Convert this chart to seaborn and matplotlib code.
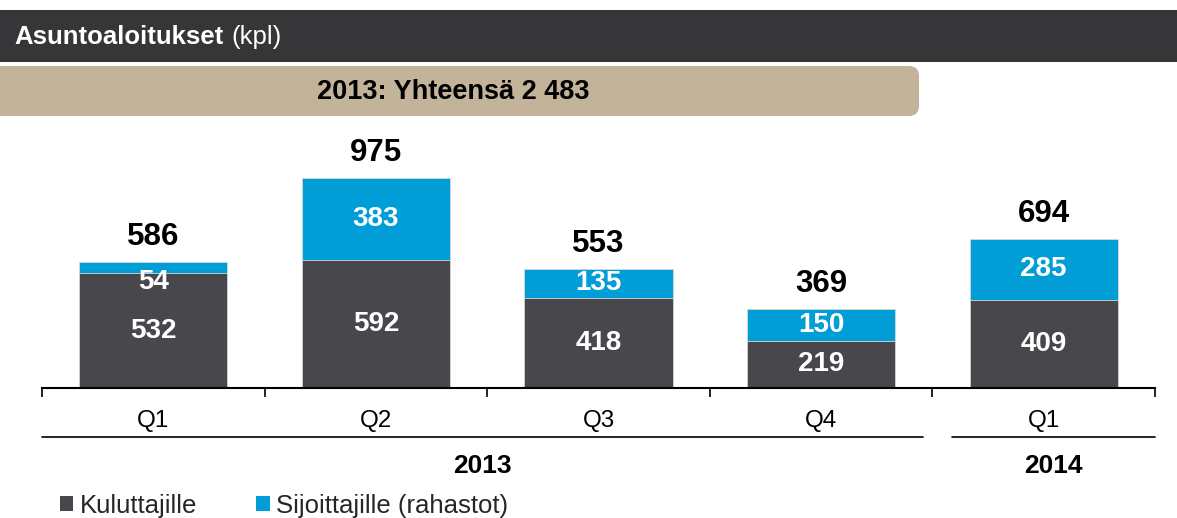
import matplotlib
matplotlib.use("Agg")
import matplotlib.pyplot as plt
import matplotlib.transforms as mtransforms
from matplotlib.patches import Rectangle, FancyBboxPatch, Patch
from matplotlib.lines import Line2D
import seaborn as sns
import pandas as pd

# Chart data (kpl)
quarters = ["Q1", "Q2", "Q3", "Q4", "Q1"]
years = ["2013", "2013", "2013", "2013", "2014"]
kuluttajille = [532, 592, 418, 219, 409]
sijoittajille = [54, 383, 135, 150, 285]
title_bold = "Asuntoaloitukset"
title_rest = "(kpl)"
banner = "2013: Yhteensä 2 483"
legend_labels = ["Kuluttajille", "Sijoittajille (rahastot)"]

DARK = "#48474c"
BLUE = "#009dd6"
BEIGE = "#c3b399"
HEADER = "#363638"

df = pd.DataFrame({"quarter": quarters, "year": years,
                   "kuluttajille": kuluttajille, "sijoittajille": sijoittajille})
df["period"] = df["quarter"] + " " + df["year"]
df["total"] = df["kuluttajille"] + df["sijoittajille"]

sns.set_theme(style="white")
plt.rcParams["font.family"] = ["Liberation Sans", "DejaVu Sans"]

W, H = 1177, 518
fig = plt.figure(figsize=(W / 100, H / 100), dpi=100)


def fx(px):
    return px / W


def fy(py):
    # py measured from top
    return 1 - py / H


# bar axes: baseline at 388px, 975 units -> 210px
scale = 210 / 975
ymax = 1100
ax = fig.add_axes([fx(42), 1 - 388 / H, fx(1155 - 42), ymax * scale / H])
ax.set_ylim(0, ymax)

# header bar and banner (drawn in inches from the bottom-left corner)
fig.patches.append(Rectangle((0, (H - 62) / 100), W / 100, 0.52, transform=fig.dpi_scale_trans,
                             facecolor=HEADER, edgecolor="none", zorder=0))
fig.patches.append(FancyBboxPatch((-0.3, (H - 116) / 100), 9.49, 0.5,
                                  boxstyle="round,pad=0,rounding_size=0.1",
                                  transform=fig.dpi_scale_trans, facecolor=BEIGE,
                                  edgecolor="none", zorder=0))
t1 = fig.text(fx(14), fy(37), title_bold, color="white", fontsize=18.5,
              fontweight="bold", va="center", ha="left")
renderer = fig.canvas.get_renderer()
x_end = t1.get_window_extent(renderer).x1
fig.text((x_end + 8) / W, fy(37), title_rest, color="white", fontsize=18.5,
         va="center", ha="left")
fig.text(fx(453), fy(92), banner, fontsize=19.5, fontweight="bold",
         ha="center", va="center", color="black")

sns.barplot(data=df, x="period", y="total", color=BLUE, width=0.665,
            saturation=1, ax=ax, edgecolor="#d8d8d8", linewidth=0.6)
sns.barplot(data=df, x="period", y="kuluttajille", color=DARK, width=0.665,
            saturation=1, ax=ax, edgecolor="#d8d8d8", linewidth=0.6)
ax.set_xlim(-0.5, len(df) - 0.5)

for i, row in df.iterrows():
    ax.annotate(f"{row.total}", (i, row.total), xytext=(0, 7), textcoords="offset points",
                ha="center", va="bottom", fontsize=22.5, fontweight="bold", color="black")
    ax.text(i, row.kuluttajille / 2, f"{row.kuluttajille}", ha="center", va="center",
            fontsize=20, fontweight="bold", color="white")
    ymid = row.kuluttajille + row.sijoittajille / 2
    if row.sijoittajille < 80:
        ymid -= 68
    ax.text(i, ymid, f"{row.sijoittajille}", ha="center", va="center",
            fontsize=20, fontweight="bold", color="white")

sns.despine(ax=ax, left=True)
ax.spines["bottom"].set_color("black")
ax.spines["bottom"].set_linewidth(1.5)
ax.set_yticks([])
ax.set_ylabel("")
ax.set_xlabel("")
ax.set_xticks(range(len(df)))
ax.set_xticklabels(quarters, fontsize=17.5, color="black")
ax.tick_params(axis="x", which="major", length=0, pad=16)
ax.set_xticks([i - 0.5 for i in range(len(df) + 1)], minor=True)
ax.tick_params(axis="x", which="minor", length=6.5, width=1.2, color="black",
               direction="out", bottom=True)

# year grouping row
trans = mtransforms.blended_transform_factory(ax.transData, ax.transAxes)
yline = -(437 - 388) / (ymax * scale)
ytext = -(466 - 388) / (ymax * scale)
year_groups = [("2013", -0.5, 3.46), ("2014", 3.59, 4.5)]
for label, x0, x1 in year_groups:
    ax.add_line(Line2D([x0, x1], [yline, yline], transform=trans, color="black",
                       lw=1.2, clip_on=False))
    ax.text((x0 + x1) / 2, ytext, label, transform=trans, ha="center", va="center",
            fontsize=19, fontweight="bold", color="black")

# legend
handles = [Patch(facecolor=DARK, edgecolor="none"), Patch(facecolor=BLUE, edgecolor="none")]
fig.legend(handles, legend_labels, loc="center left", bbox_to_anchor=(fx(60), fy(506)),
           ncol=2, frameon=False, fontsize=18.5, handlelength=0.52, handleheight=0.52,
           handletextpad=0.25, columnspacing=2.3, borderaxespad=0, borderpad=0)

fig.savefig("out.png", dpi=100)
